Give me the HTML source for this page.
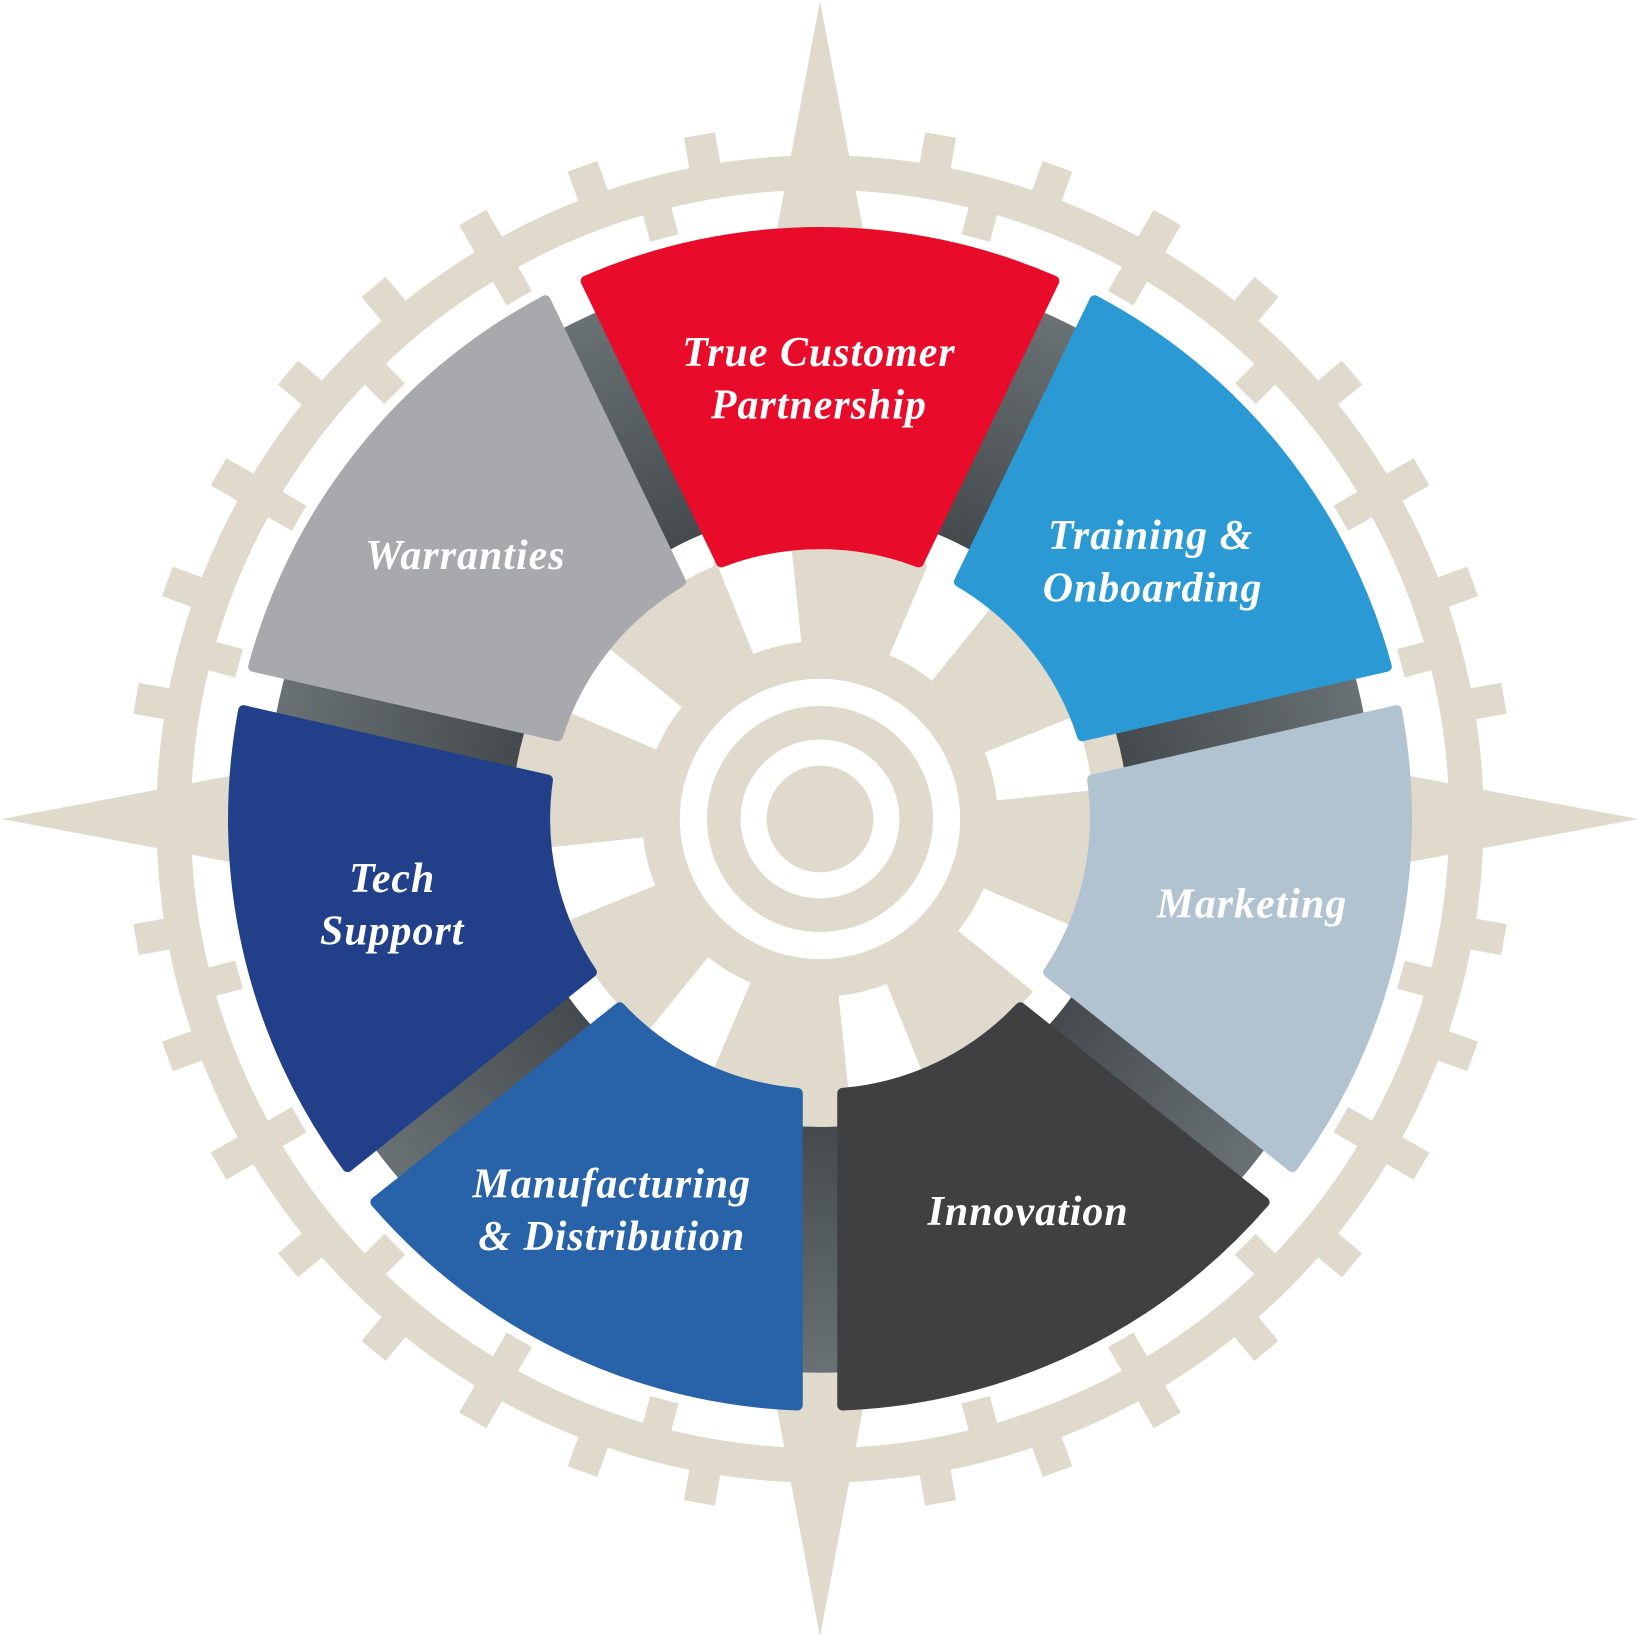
<!DOCTYPE html>
<html><head><meta charset="utf-8"><style>
html,body{margin:0;padding:0;background:#fff;width:1640px;height:1640px;overflow:hidden}
svg{display:block}
text{font-family:"Liberation Serif",serif;font-style:italic;font-weight:bold;fill:#fff;font-size:40px;text-anchor:middle;letter-spacing:1px}
</style></head><body>
<svg id="s" width="1640" height="1640" viewBox="0 0 1568 1568" xmlns="http://www.w3.org/2000/svg">
<defs>
<radialGradient id="dg" gradientUnits="userSpaceOnUse" cx="784" cy="783" r="535">
<stop offset="0.55" stop-color="#444a4d"/><stop offset="1" stop-color="#6b7275"/>
</radialGradient>
</defs>
<rect width="1568" height="1568" fill="#fff"/>
<g id="bg" fill="#dfdacb"></g>
<circle cx="784" cy="783" r="412" fill="none" stroke="url(#dg)" stroke-width="235"/>
<g id="segs"></g>
<text x="783" y="350">True Customer</text>
<text x="783" y="400">Partnership</text>
<text x="445" y="544">Warranties</text>
<text x="1100" y="525">Training &amp;</text>
<text x="1102" y="575">Onboarding</text>
<text x="1197" y="877">Marketing</text>
<text x="375" y="853">Tech</text>
<text x="375" y="903">Support</text>
<text x="585" y="1145">Manufacturing</text>
<text x="585" y="1195">&amp; Distribution</text>
<text x="983" y="1171">Innovation</text>
</svg>
<script>
var cx=784,cy=783,NS="http://www.w3.org/2000/svg";
function P(r,a){a=a*Math.PI/180;return [cx+r*Math.sin(a),cy-r*Math.cos(a)];}
function el(p,t,at){var e=document.createElementNS(NS,t);for(var k in at)e.setAttribute(k,at[k]);p.appendChild(e);return e;}
var bg=document.getElementById('bg');
// star
var a=124,tip=782;
el(bg,'polygon',{points:[[cx,cy-tip],[cx+a,cy-a],[cx+tip,cy],[cx+a,cy+a],[cx,cy+tip],[cx-a,cy+a],[cx-tip,cy],[cx-a,cy-a]].map(function(p){return p.join(',')}).join(' ')});
// ring
el(bg,'circle',{cx:cx,cy:cy,r:618,fill:'none',stroke:'#dfdacb','stroke-width':33});
function tooth(ang,r1,r2,w){var o=P(r1,ang),o2=P(r2,ang);el(bg,'line',{x1:o[0],y1:o[1],x2:o2[0],y2:o2[1],stroke:'#dfdacb','stroke-width':w});}
for(var d=0;d<360;d+=10){if(d%90==0)continue;tooth(d,630,664,30);}
for(var d=0;d<360;d+=15){if(d%90==0)continue;tooth(d,575,606,28);}
// gear
el(bg,'circle',{cx:cx,cy:cy,r:262});
function sector(g,r1,r2,a1,a2,fill){var p1=P(r2,a1),p2=P(r2,a2),p3=P(r1,a2),p4=P(r1,a1);var lg=(a2-a1)>180?1:0;
el(g,'path',{fill:fill,d:'M'+p1+' A'+r2+','+r2+' 0 '+lg+' 1 '+p2+' L'+p3+' A'+r1+','+r1+' 0 '+lg+' 0 '+p4+'Z'});}
for(var k=0;k<8;k++){sector(bg,170,262,-22+45*k,-6+45*k,'#fff');}
el(bg,'circle',{cx:cx,cy:cy,r:134,fill:'#fff'});
el(bg,'circle',{cx:cx,cy:cy,r:108,fill:'#dfdacb'});
el(bg,'circle',{cx:cx,cy:cy,r:76,fill:'#fff'});
el(bg,'circle',{cx:cx,cy:cy,r:51,fill:'#dfdacb'});
// segments
var cols=['#e80c2a','#2b9ad4','#b1c3d1','#404042','#2862a8','#22408a','#a8a9ad'];
var sg=document.getElementById('segs'),ro=561,ri=263,dd=21.5,hw=360/14;
for(var i=0;i<7;i++){var c=i*360/7,t1=c-hw,t2=c+hw;
var ao1=t1+Math.asin(dd/ro)*180/Math.PI,ao2=t2-Math.asin(dd/ro)*180/Math.PI;
var ai1=t1+Math.asin(dd/ri)*180/Math.PI,ai2=t2-Math.asin(dd/ri)*180/Math.PI;
var p1=P(ro,ao1),p2=P(ro,ao2),p3=P(ri,ai2),p4=P(ri,ai1);
el(sg,'path',{fill:cols[i],stroke:cols[i],'stroke-width':10,'stroke-linejoin':'round',
d:'M'+p1+' A'+ro+','+ro+' 0 0 1 '+p2+' L'+p3+' A'+ri+','+ri+' 0 0 0 '+p4+'Z'});}
</script>
</body></html>
